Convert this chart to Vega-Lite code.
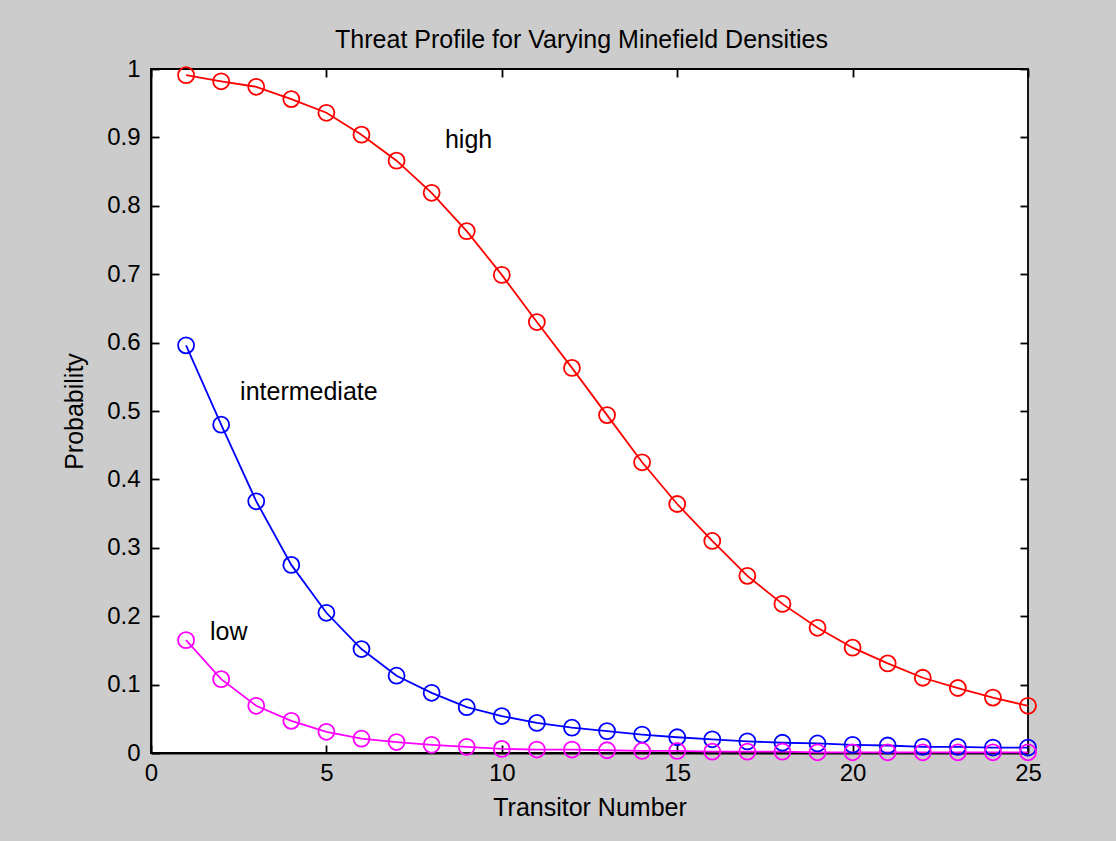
{
  "$schema": "https://vega.github.io/schema/vega-lite/v6.json",
  "autosize": "none",
  "width": 877,
  "height": 684,
  "padding": {"left": 151, "top": 69, "right": 88, "bottom": 88},
  "background": "#CCCCCC",
  "title": {"text": "Threat Profile for Varying Minefield Densities", "fontSize": 25, "font": "Liberation Sans", "fontWeight": "normal", "color": "black", "offset": 4, "dx": -8},
  "config": {
    "view": {"fill": "white", "stroke": "black", "strokeWidth": 1.8},
    "axis": {"domainColor": "black", "domainWidth": 1.8, "tickColor": "black", "tickWidth": 1.8, "labelColor": "black", "titleColor": "black", "labelFont": "Liberation Sans", "titleFont": "Liberation Sans", "labelFontSize": 24, "titleFontSize": 25, "titleFontWeight": "normal", "grid": false, "labelFlush": false}
  },
  "datasets": {
    "curves": [
      {"series": "high", "n": 1, "p": 0.991}, {"series": "high", "n": 2, "p": 0.982}, {"series": "high", "n": 3, "p": 0.974}, {"series": "high", "n": 4, "p": 0.956}, {"series": "high", "n": 5, "p": 0.936},
      {"series": "high", "n": 6, "p": 0.904}, {"series": "high", "n": 7, "p": 0.866}, {"series": "high", "n": 8, "p": 0.819}, {"series": "high", "n": 9, "p": 0.763}, {"series": "high", "n": 10, "p": 0.699},
      {"series": "high", "n": 11, "p": 0.630}, {"series": "high", "n": 12, "p": 0.563}, {"series": "high", "n": 13, "p": 0.494}, {"series": "high", "n": 14, "p": 0.425}, {"series": "high", "n": 15, "p": 0.364},
      {"series": "high", "n": 16, "p": 0.310}, {"series": "high", "n": 17, "p": 0.259}, {"series": "high", "n": 18, "p": 0.218}, {"series": "high", "n": 19, "p": 0.183}, {"series": "high", "n": 20, "p": 0.154},
      {"series": "high", "n": 21, "p": 0.131}, {"series": "high", "n": 22, "p": 0.110}, {"series": "high", "n": 23, "p": 0.095}, {"series": "high", "n": 24, "p": 0.081}, {"series": "high", "n": 25, "p": 0.069},
      {"series": "intermediate", "n": 1, "p": 0.596}, {"series": "intermediate", "n": 2, "p": 0.480}, {"series": "intermediate", "n": 3, "p": 0.368}, {"series": "intermediate", "n": 4, "p": 0.275}, {"series": "intermediate", "n": 5, "p": 0.205},
      {"series": "intermediate", "n": 6, "p": 0.152}, {"series": "intermediate", "n": 7, "p": 0.113}, {"series": "intermediate", "n": 8, "p": 0.088}, {"series": "intermediate", "n": 9, "p": 0.067}, {"series": "intermediate", "n": 10, "p": 0.054},
      {"series": "intermediate", "n": 11, "p": 0.044}, {"series": "intermediate", "n": 12, "p": 0.037}, {"series": "intermediate", "n": 13, "p": 0.032}, {"series": "intermediate", "n": 14, "p": 0.027}, {"series": "intermediate", "n": 15, "p": 0.023},
      {"series": "intermediate", "n": 16, "p": 0.020}, {"series": "intermediate", "n": 17, "p": 0.017}, {"series": "intermediate", "n": 18, "p": 0.015}, {"series": "intermediate", "n": 19, "p": 0.014}, {"series": "intermediate", "n": 20, "p": 0.012},
      {"series": "intermediate", "n": 21, "p": 0.011}, {"series": "intermediate", "n": 22, "p": 0.009}, {"series": "intermediate", "n": 23, "p": 0.009}, {"series": "intermediate", "n": 24, "p": 0.008}, {"series": "intermediate", "n": 25, "p": 0.008},
      {"series": "low", "n": 1, "p": 0.165}, {"series": "low", "n": 2, "p": 0.108}, {"series": "low", "n": 3, "p": 0.069}, {"series": "low", "n": 4, "p": 0.047}, {"series": "low", "n": 5, "p": 0.031},
      {"series": "low", "n": 6, "p": 0.021}, {"series": "low", "n": 7, "p": 0.016}, {"series": "low", "n": 8, "p": 0.012}, {"series": "low", "n": 9, "p": 0.009}, {"series": "low", "n": 10, "p": 0.006},
      {"series": "low", "n": 11, "p": 0.005}, {"series": "low", "n": 12, "p": 0.005}, {"series": "low", "n": 13, "p": 0.004}, {"series": "low", "n": 14, "p": 0.003}, {"series": "low", "n": 15, "p": 0.003},
      {"series": "low", "n": 16, "p": 0.002}, {"series": "low", "n": 17, "p": 0.002}, {"series": "low", "n": 18, "p": 0.002}, {"series": "low", "n": 19, "p": 0.001}, {"series": "low", "n": 20, "p": 0.001},
      {"series": "low", "n": 21, "p": 0.001}, {"series": "low", "n": 22, "p": 0.001}, {"series": "low", "n": 23, "p": 0.001}, {"series": "low", "n": 24, "p": 0.001}, {"series": "low", "n": 25, "p": 0.001}
    ],
    "labels": [
      {"label": "high", "n": 8.38, "p": 0.896},
      {"label": "intermediate", "n": 2.54, "p": 0.528},
      {"label": "low", "n": 1.68, "p": 0.177}
    ]
  },
  "resolve": {"axis": {"x": "independent", "y": "independent"}},
  "layer": [
    {
      "data": {"name": "curves"},
      "mark": {"type": "line", "strokeWidth": 1.8, "clip": false},
      "encoding": {
        "x": {"field": "n", "type": "quantitative", "scale": {"domain": [0, 25], "nice": false}, "axis": {"orient": "bottom", "title": "Transitor Number", "values": [0, 5, 10, 15, 20, 25], "tickSize": -8, "labelPadding": 16, "titlePadding": 10}},
        "y": {"field": "p", "type": "quantitative", "scale": {"domain": [0, 1], "nice": false}, "axis": {"orient": "left", "title": "Probability", "values": [0, 0.1, 0.2, 0.3, 0.4, 0.5, 0.6, 0.7, 0.8, 0.9, 1], "format": "~g", "tickSize": -8, "labelPadding": 19, "titlePadding": 19}},
        "color": {"field": "series", "type": "nominal", "scale": {"domain": ["high", "intermediate", "low"], "range": ["#FF0000", "#0000FF", "#FF00FF"]}, "legend": null},
        "detail": {"field": "series"}
      }
    },
    {
      "data": {"name": "curves"},
      "mark": {"type": "point", "shape": "circle", "filled": false, "size": 256, "strokeWidth": 1.8, "opacity": 1, "clip": false},
      "encoding": {
        "x": {"field": "n", "type": "quantitative", "axis": {"orient": "top", "title": null, "labels": false, "values": [0, 5, 10, 15, 20, 25], "tickSize": -8, "domain": false}},
        "y": {"field": "p", "type": "quantitative", "axis": {"orient": "right", "title": null, "labels": false, "values": [0, 0.1, 0.2, 0.3, 0.4, 0.5, 0.6, 0.7, 0.8, 0.9, 1], "tickSize": -8, "domain": false}},
        "color": {"field": "series", "type": "nominal", "legend": null}
      }
    },
    {
      "data": {"name": "labels"},
      "mark": {"type": "text", "align": "left", "baseline": "middle", "font": "Liberation Sans", "fontSize": 25, "color": "black"},
      "encoding": {
        "x": {"field": "n", "type": "quantitative", "axis": null},
        "y": {"field": "p", "type": "quantitative", "axis": null},
        "text": {"field": "label"}
      }
    }
  ]
}
